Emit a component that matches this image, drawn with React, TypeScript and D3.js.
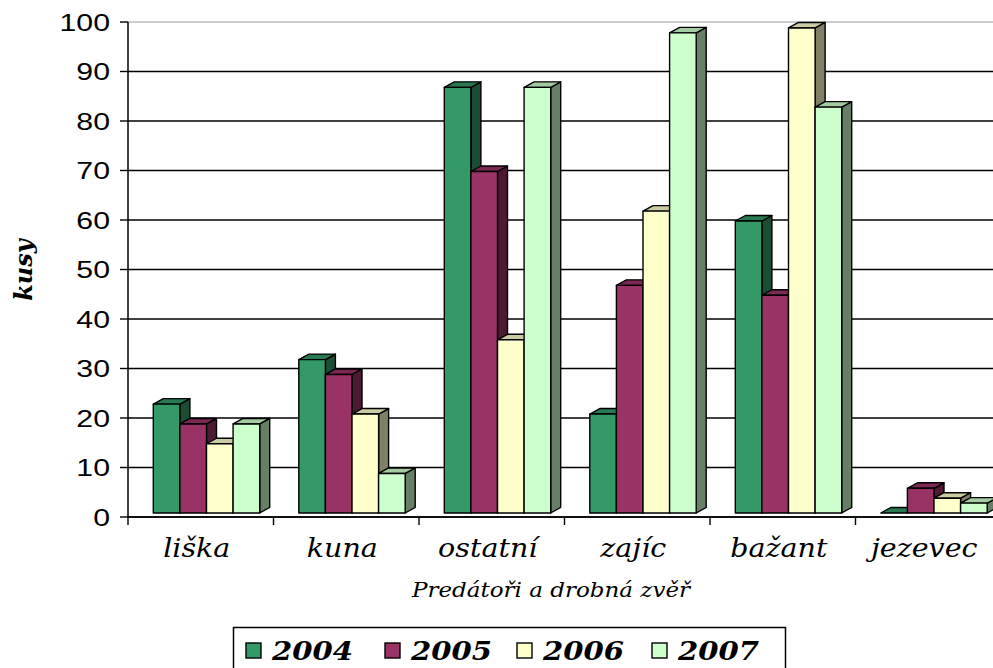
import React from 'react';
import * as d3 from 'd3';

const categories = ['liška', 'kuna', 'ostatní', 'zajíc', 'bažant', 'jezevec'];
const seriesNames = ['2004', '2005', '2006', '2007'];
const values2004 = [23, 32, 87, 21, 60, 0];
const values2005 = [19, 29, 70, 47, 45, 6];
const values2006 = [15, 21, 36, 62, 99, 4];
const values2007 = [19, 9, 87, 98, 83, 3];
const yTicks = [0, 10, 20, 30, 40, 50, 60, 70, 80, 90, 100];
const yTitle = 'kusy';
const xTitle = 'Predátoři a drobná zvěř';

const seriesValues = [values2004, values2005, values2006, values2007];
const frontColors = ['#339966', '#993366', '#FFFFCC', '#CCFFCC'];
const topColors = ['#297a52', '#7a2952', '#cccca3', '#a3cca3'];
const sideColors = ['#1a4d33', '#4d1a33', '#808066', '#668066'];

const W = 993;
const H = 668;
const left = 128;
const axisY = 517;
const topY = 22;
const dx = 10;
const dy = 5.5;
const barW = 26.6;
const groupOffset = 25.3;

export default function App() {
  const y = d3.scaleLinear().domain([0, 100]).range([axisY, topY]);
  const x = d3.scaleBand<string>().domain(categories).range([left, left + 6 * 145.5]).padding(0);
  const frontBottom = y(0) - 4;

  const bars: any[] = [];
  categories.forEach((c, i) => {
    seriesValues.forEach((vals, j) => {
      const v = vals[i];
      const x0 = (x(c) as number) + groupOffset + j * barW;
      const x1 = x0 + barW;
      const t = Math.min(y(v) + 1, frontBottom);
      const b = frontBottom;
      const topPts = [[x0, t], [x1, t], [x1 + dx, t - dy], [x0 + dx, t - dy]];
      const sidePts = [[x1, t], [x1 + dx, t - dy], [x1 + dx, b - dy], [x1, b]];
      bars.push(
        <g key={`${i}-${j}`} stroke="#000" strokeWidth={1.4} strokeLinejoin="round">
          {b - t > 0 && <polygon points={sidePts.map((p) => p.join(',')).join(' ')} fill={sideColors[j]} />}
          <polygon points={topPts.map((p) => p.join(',')).join(' ')} fill={topColors[j]} />
          {b - t > 0 && <rect x={x0} y={t} width={barW} height={b - t} fill={frontColors[j]} />}
        </g>
      );
    });
  });

  const legendX = [246, 385, 517, 652];

  return (
    <svg width={W} height={H} style={{ position: 'absolute', left: 0, top: 0, background: '#fff' }}>
      <rect x={0} y={0} width={W} height={H} fill="#fff" />
      {/* gridlines */}
      {yTicks.map((t) => (
        <line key={`g${t}`} x1={left} x2={W} y1={y(t)} y2={y(t)} stroke={t === 100 ? '#bbb' : '#000'} strokeWidth={1.3} />
      ))}
      {/* y axis */}
      <line x1={left} x2={left} y1={topY} y2={axisY} stroke="#000" strokeWidth={1.5} />
      {yTicks.map((t) => (
        <g key={`t${t}`}>
          <line x1={left - 8} x2={left} y1={y(t)} y2={y(t)} stroke="#000" strokeWidth={1.4} />
          <text
            transform={`translate(110,${y(t) + 8.5}) scale(1.26,1)`}
            textAnchor="end"
            fontFamily="'Liberation Sans', Arial, sans-serif"
            fontSize={24}
            fill="#000"
          >
            {t}
          </text>
        </g>
      ))}
      {/* x axis */}
      <line x1={left} x2={W} y1={axisY} y2={axisY} stroke="#000" strokeWidth={1.5} />
      {d3.range(categories.length + 1).map((k) => (
        <line key={`xt${k}`} x1={left + k * x.bandwidth()} x2={left + k * x.bandwidth()} y1={axisY} y2={axisY + 8} stroke="#000" strokeWidth={1.4} />
      ))}
      {bars}
      {/* category labels */}
      {categories.map((c) => (
        <text
          key={`c${c}`}
          transform={`translate(${(x(c) as number) + x.bandwidth() / 2 - 4},557) scale(1.12,1)`}
          textAnchor="middle"
          fontFamily="'DejaVu Serif', serif"
          fontStyle="italic"
          fontSize={25.5}
          fill="#000"
        >
          {c}
        </text>
      ))}
      <text
        transform={`translate(551,597) scale(1.18,1)`}
        textAnchor="middle"
        fontFamily="'DejaVu Serif', serif"
        fontStyle="italic"
        fontSize={19.5}
        fill="#000"
      >
        {xTitle}
      </text>
      <text
        transform={`translate(32,270) rotate(-90)`}
        textAnchor="middle"
        fontFamily="'DejaVu Serif', serif"
        fontStyle="italic"
        fontWeight="bold"
        fontSize={24}
        fill="#000"
      >
        {yTitle}
      </text>
      {/* legend */}
      <rect x={233.5} y={627.5} width={552} height={60} fill="#fff" stroke="#000" strokeWidth={1.5} />
      {seriesNames.map((s, j) => (
        <g key={`l${s}`}>
          <rect x={legendX[j]} y={643} width={15} height={15} fill={frontColors[j]} stroke="#000" strokeWidth={1.4} />
          <text
            transform={`translate(${legendX[j] + 26},660) scale(1.12,1)`}
            fontFamily="'DejaVu Serif', serif"
            fontStyle="italic"
            fontWeight="bold"
            fontSize={26}
            fill="#000"
          >
            {s}
          </text>
        </g>
      ))}
    </svg>
  );
}
